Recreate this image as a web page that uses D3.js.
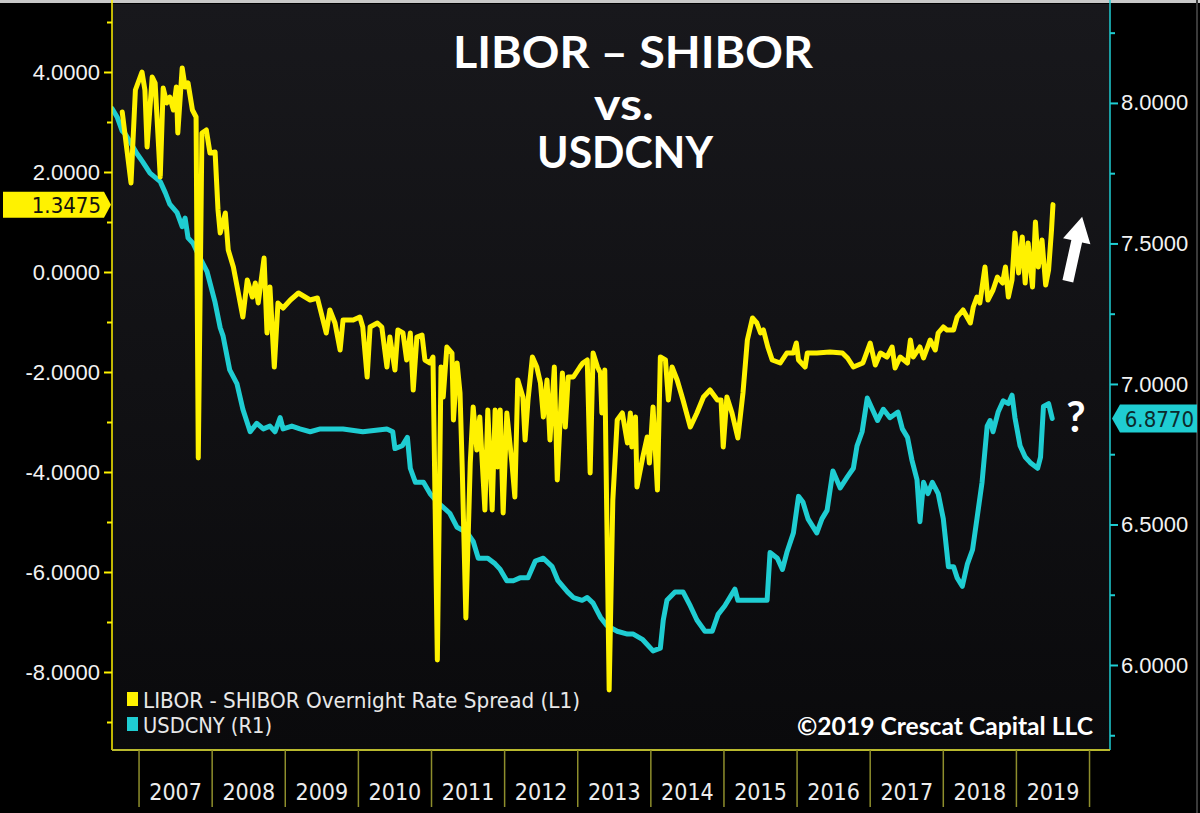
<!DOCTYPE html>
<html>
  <head>
    <meta http-equiv="Content-type" content="text/html; charset=utf-8"/>
    <title>LIBOR - SHIBOR vs. USDCNY</title>
    <script src="https://d3js.org/d3.v7.min.js"></script>
    <style>
      body{ margin:0; background:#000; }
      svg{ display:block; }
      .narrow{ font-family:"DejaVu Sans Condensed","Liberation Sans Narrow","DejaVu Sans",sans-serif; font-stretch:condensed; }
      .bold{ font-family:Lato,"Open Sans",sans-serif; font-weight:700; }
    </style>
  </head>
  <body>
    <svg width="1200" height="813"></svg>
    <script>
      // ### Chart data ###
      var years = [2007,2008,2009,2010,2011,2012,2013,2014,2015,2016,2017,2018,2019];
      var leftTicks = [-8,-6,-4,-2,0,2,4];
      var leftMinor = [-9,-7,-5,-3,-1,1,3,5];
      var rightTicks = [6,6.5,7,7.5,8];
      var rightMinor = [5.75,6.25,6.75,7.25,7.75,8.25];
      var spreadLast = 1.3475;
      var usdcnyLast = 6.8770;

      // [decimal year, LIBOR - SHIBOR overnight spread]
      var spread = [[2006.77,3.20],[2006.89,1.78],[2006.95,3.64],[2007.04,4.00],[2007.08,3.64],[2007.11,2.50],[2007.18,3.90],[2007.22,3.78],[2007.29,1.90],[2007.33,3.68],[2007.38,3.38],[2007.42,3.50],[2007.47,3.24],[2007.51,3.70],[2007.53,2.78],[2007.59,4.08],[2007.63,3.70],[2007.67,3.78],[2007.73,3.24],[2007.78,3.10],[2007.81,-3.72],[2007.86,2.78],[2007.92,2.84],[2007.97,2.38],[2008.04,2.40],[2008.08,1.24],[2008.11,0.78],[2008.18,1.18],[2008.22,0.44],[2008.29,0.10],[2008.35,-0.36],[2008.42,-0.90],[2008.48,-0.16],[2008.55,-0.50],[2008.59,-0.22],[2008.63,-0.62],[2008.71,0.28],[2008.75,-1.22],[2008.79,-0.30],[2008.85,-1.90],[2008.90,-0.62],[2008.97,-0.72],[2009.07,-0.56],[2009.18,-0.42],[2009.34,-0.56],[2009.44,-0.52],[2009.56,-1.22],[2009.61,-0.76],[2009.68,-1.02],[2009.75,-1.56],[2009.79,-0.96],[2009.93,-0.96],[2010.02,-0.90],[2010.06,-1.10],[2010.12,-2.10],[2010.16,-1.10],[2010.26,-1.02],[2010.32,-1.10],[2010.39,-1.90],[2010.43,-1.30],[2010.50,-1.96],[2010.54,-1.16],[2010.61,-1.22],[2010.66,-1.76],[2010.71,-1.22],[2010.75,-2.36],[2010.80,-1.30],[2010.87,-1.26],[2010.91,-1.76],[2010.98,-1.82],[2011.02,-1.70],[2011.08,-7.76],[2011.13,-1.90],[2011.16,-2.50],[2011.21,-1.50],[2011.28,-1.62],[2011.30,-2.96],[2011.35,-1.82],[2011.39,-2.42],[2011.42,-3.90],[2011.47,-6.92],[2011.53,-3.82],[2011.57,-2.70],[2011.62,-3.56],[2011.66,-2.90],[2011.73,-4.76],[2011.77,-2.76],[2011.83,-4.76],[2011.87,-2.76],[2011.90,-3.90],[2011.94,-2.76],[2011.98,-4.82],[2012.03,-2.82],[2012.10,-3.82],[2012.14,-4.50],[2012.18,-2.16],[2012.25,-2.50],[2012.28,-3.36],[2012.32,-2.56],[2012.38,-1.70],[2012.44,-1.90],[2012.49,-2.22],[2012.53,-2.90],[2012.58,-2.16],[2012.62,-3.36],[2012.68,-1.90],[2012.72,-4.16],[2012.79,-2.02],[2012.83,-3.10],[2012.87,-2.10],[2012.94,-2.10],[2013.03,-1.90],[2013.07,-1.82],[2013.13,-1.76],[2013.17,-4.02],[2013.21,-1.62],[2013.27,-1.90],[2013.31,-2.02],[2013.33,-2.82],[2013.37,-1.96],[2013.43,-8.36],[2013.48,-4.56],[2013.54,-2.96],[2013.61,-2.82],[2013.68,-3.42],[2013.72,-2.82],[2013.74,-3.50],[2013.79,-2.90],[2013.81,-4.30],[2013.89,-3.70],[2013.95,-3.30],[2013.98,-3.82],[2014.03,-2.70],[2014.09,-4.36],[2014.13,-1.70],[2014.20,-1.76],[2014.24,-2.56],[2014.29,-1.90],[2014.36,-2.16],[2014.44,-2.56],[2014.54,-3.10],[2014.63,-2.82],[2014.72,-2.50],[2014.81,-2.36],[2014.91,-2.56],[2014.96,-2.56],[2014.99,-3.50],[2015.04,-2.50],[2015.11,-2.82],[2015.19,-3.32],[2015.26,-2.42],[2015.32,-1.36],[2015.39,-0.92],[2015.45,-1.02],[2015.50,-1.22],[2015.54,-1.16],[2015.60,-1.50],[2015.66,-1.76],[2015.77,-1.82],[2015.86,-1.62],[2015.95,-1.62],[2015.99,-1.42],[2016.02,-1.76],[2016.11,-1.90],[2016.14,-1.62],[2016.27,-1.62],[2016.45,-1.60],[2016.62,-1.62],[2016.69,-1.72],[2016.77,-1.90],[2016.90,-1.82],[2017.00,-1.42],[2017.07,-1.86],[2017.14,-1.62],[2017.23,-1.70],[2017.30,-1.50],[2017.34,-1.92],[2017.41,-1.70],[2017.51,-1.82],[2017.55,-1.36],[2017.59,-1.70],[2017.68,-1.50],[2017.73,-1.72],[2017.82,-1.36],[2017.89,-1.56],[2017.93,-1.22],[2018.00,-1.10],[2018.05,-1.16],[2018.14,-1.16],[2018.19,-0.90],[2018.27,-0.76],[2018.37,-1.02],[2018.41,-0.70],[2018.46,-0.50],[2018.50,-0.62],[2018.57,0.10],[2018.61,-0.56],[2018.68,-0.36],[2018.74,-0.10],[2018.81,-0.22],[2018.85,0.10],[2018.89,-0.50],[2018.94,-0.16],[2018.98,0.78],[2019.03,-0.02],[2019.08,0.70],[2019.12,-0.22],[2019.16,0.58],[2019.22,-0.30],[2019.26,1.00],[2019.30,0.10],[2019.35,0.64],[2019.40,-0.26],[2019.44,0.04],[2019.48,0.84],[2019.50,1.3475]];

      // [decimal year, USDCNY]
      var usdcny = [[2006.63,7.98],[2006.70,7.95],[2006.77,7.90],[2006.81,7.89],[2006.88,7.86],[2006.97,7.82],[2007.05,7.79],[2007.15,7.75],[2007.29,7.72],[2007.36,7.68],[2007.42,7.64],[2007.52,7.61],[2007.59,7.56],[2007.63,7.59],[2007.67,7.52],[2007.74,7.50],[2007.83,7.45],[2007.93,7.40],[2007.97,7.36],[2008.04,7.29],[2008.11,7.20],[2008.15,7.17],[2008.24,7.05],[2008.34,7.00],[2008.42,6.91],[2008.52,6.83],[2008.61,6.86],[2008.70,6.84],[2008.79,6.85],[2008.86,6.83],[2008.93,6.88],[2008.97,6.84],[2009.09,6.85],[2009.20,6.84],[2009.34,6.83],[2009.48,6.84],[2009.79,6.84],[2010.06,6.83],[2010.39,6.84],[2010.47,6.83],[2010.50,6.77],[2010.60,6.78],[2010.67,6.81],[2010.71,6.70],[2010.78,6.65],[2010.89,6.65],[2010.98,6.61],[2011.08,6.58],[2011.25,6.54],[2011.35,6.49],[2011.49,6.47],[2011.57,6.44],[2011.64,6.38],[2011.77,6.38],[2011.87,6.36],[2011.94,6.34],[2012.03,6.30],[2012.12,6.30],[2012.21,6.31],[2012.32,6.31],[2012.42,6.37],[2012.53,6.38],[2012.65,6.35],[2012.73,6.30],[2012.86,6.26],[2012.94,6.24],[2013.06,6.23],[2013.13,6.24],[2013.21,6.22],[2013.31,6.17],[2013.40,6.14],[2013.54,6.12],[2013.68,6.11],[2013.76,6.11],[2013.89,6.09],[2014.03,6.05],[2014.13,6.06],[2014.17,6.16],[2014.22,6.23],[2014.33,6.26],[2014.44,6.26],[2014.54,6.21],[2014.63,6.16],[2014.74,6.12],[2014.84,6.12],[2014.92,6.18],[2015.01,6.21],[2015.15,6.27],[2015.19,6.23],[2015.59,6.23],[2015.63,6.40],[2015.73,6.38],[2015.80,6.34],[2015.86,6.40],[2015.95,6.47],[2016.02,6.60],[2016.08,6.58],[2016.15,6.52],[2016.27,6.47],[2016.34,6.52],[2016.41,6.55],[2016.49,6.69],[2016.59,6.63],[2016.69,6.67],[2016.77,6.70],[2016.82,6.78],[2016.89,6.83],[2016.96,6.95],[2017.03,6.91],[2017.10,6.87],[2017.18,6.91],[2017.27,6.88],[2017.38,6.90],[2017.44,6.84],[2017.51,6.81],[2017.57,6.73],[2017.64,6.66],[2017.68,6.51],[2017.73,6.65],[2017.79,6.61],[2017.85,6.65],[2017.93,6.61],[2018.00,6.52],[2018.07,6.35],[2018.14,6.35],[2018.19,6.31],[2018.26,6.28],[2018.33,6.36],[2018.40,6.41],[2018.46,6.52],[2018.53,6.65],[2018.60,6.85],[2018.64,6.87],[2018.68,6.83],[2018.75,6.90],[2018.82,6.94],[2018.89,6.93],[2018.94,6.96],[2018.98,6.88],[2019.05,6.78],[2019.12,6.74],[2019.19,6.72],[2019.29,6.70],[2019.33,6.74],[2019.37,6.92],[2019.44,6.93],[2019.49,6.877]];

      var YELLOW = "#fff200", CYAN = "#1fcdd2";

      var svg = d3.select("svg"),
          plot = {left: 112, right: 1110, top: 4, bottom: 750};

      var x = d3.scaleLinear().domain([2006.63, 2020.28]).range([plot.left, plot.right]);
      var yL = d3.scaleLinear().domain([-9.56, 5.36]).range([plot.bottom, plot.top]);
      var yR = d3.scaleLinear().domain([5.6975, 8.352]).range([plot.bottom, plot.top]);

      // frame + plot background
      var defs = svg.append("defs");
      var grad = defs.append("linearGradient").attr("id", "bg").attr("x1", 0).attr("y1", 0).attr("x2", 0).attr("y2", 1);
      grad.append("stop").attr("offset", "0%").attr("stop-color", "#18181c");
      grad.append("stop").attr("offset", "100%").attr("stop-color", "#0a0a0c");
      defs.append("clipPath").attr("id", "clip")
        .append("rect").attr("x", plot.left).attr("y", plot.top)
        .attr("width", plot.right - plot.left).attr("height", plot.bottom - plot.top);

      svg.append("rect").attr("x", plot.left).attr("y", plot.top)
          .attr("width", plot.right - plot.left).attr("height", plot.bottom - plot.top)
          .attr("fill", "url(#bg)");
      svg.append("rect").attr("x", 0).attr("y", 0).attr("width", 1200).attr("height", 3).attr("fill", "#c8c8c8");
      svg.append("rect").attr("x", 1196).attr("y", 0).attr("width", 2).attr("height", 813).attr("fill", "#3a3a3a");

      // title
      var title = svg.append("g").attr("class", "bold").attr("fill", "#fff").attr("text-anchor", "middle");
      title.append("text").attr("x", 633).attr("y", 68).attr("font-size", 43)
          .attr("textLength", 360).attr("lengthAdjust", "spacingAndGlyphs").text("LIBOR – SHIBOR");
      title.append("text").attr("x", 624).attr("y", 120).attr("font-size", 43)
          .attr("textLength", 60).attr("lengthAdjust", "spacingAndGlyphs").text("vs.");
      title.append("text").attr("x", 625).attr("y", 168).attr("font-size", 43)
          .attr("textLength", 176).attr("lengthAdjust", "spacingAndGlyphs").text("USDCNY");

      // lines
      var lineL = d3.line().x(function(d) { return x(d[0]); }).y(function(d) { return yL(d[1]); });
      var lineR = d3.line().x(function(d) { return x(d[0]); }).y(function(d) { return yR(d[1]); });
      var lines = svg.append("g").attr("clip-path", "url(#clip)");
      lines.append("path").datum(usdcny)
          .attr("fill", "none").attr("stroke", CYAN).attr("stroke-width", 5)
          .attr("stroke-linejoin", "round").attr("stroke-linecap", "round").attr("d", lineR);
      lines.append("path").datum(spread)
          .attr("fill", "none").attr("stroke", YELLOW).attr("stroke-width", 5)
          .attr("stroke-linejoin", "round").attr("stroke-linecap", "round").attr("d", lineL);

      // left axis
      var fmt = function(d) { return d.toFixed(4); };
      var gl = svg.append("g").attr("class", "narrow").attr("transform", "translate(" + plot.left + ",0)");
      gl.call(d3.axisLeft(yL).tickValues(leftMinor).tickSize(5).tickFormat(""));
      gl.append("g").call(d3.axisLeft(yL).tickValues(leftTicks).tickSize(8).tickPadding(4).tickFormat(fmt));
      gl.selectAll(".domain").attr("stroke", "none");
      gl.selectAll("line").attr("stroke", YELLOW).attr("stroke-width", 2);
      gl.selectAll("text").attr("fill", "#f2f2f2").attr("font-size", 22).attr("font-family", null);
      gl.append("line").attr("y1", plot.top - 4).attr("y2", plot.bottom).attr("stroke", YELLOW).attr("stroke-width", 1.5);

      // right axis
      var gr = svg.append("g").attr("class", "narrow").attr("transform", "translate(" + plot.right + ",0)");
      gr.call(d3.axisRight(yR).tickValues(rightMinor).tickSize(5).tickFormat(""));
      gr.append("g").call(d3.axisRight(yR).tickValues(rightTicks).tickSize(8).tickPadding(3).tickFormat(fmt));
      gr.selectAll(".domain").attr("stroke", "none");
      gr.selectAll("line").attr("stroke", CYAN).attr("stroke-width", 2);
      gr.selectAll("text").attr("fill", "#f2f2f2").attr("font-size", 22).attr("font-family", null);
      gr.append("line").attr("y1", plot.top - 4).attr("y2", plot.bottom).attr("stroke", CYAN).attr("stroke-width", 1.5);

      // bottom axis: year bands
      svg.append("line").attr("x1", plot.left).attr("x2", plot.right)
          .attr("y1", plot.bottom).attr("y2", plot.bottom).attr("stroke", "#b9b92e").attr("stroke-width", 2);
      var bounds = years.concat([years[years.length - 1] + 1]);
      svg.append("g").selectAll("line").data(bounds).join("line")
          .attr("x1", function(d) { return x(d); }).attr("x2", function(d) { return x(d); })
          .attr("y1", plot.bottom).attr("y2", 807)
          .attr("stroke", "#8e8e2c").attr("stroke-width", 1.5);
      svg.append("g").attr("class", "narrow").selectAll("text").data(years).join("text")
          .attr("x", function(d) { return x(d + 0.5); }).attr("y", 800)
          .attr("text-anchor", "middle").attr("font-size", 23).attr("fill", "#ececec")
          .text(function(d) { return d; });

      // last value tags
      var ty = yL(spreadLast);
      svg.append("path")
          .attr("d", "M3," + (ty - 13) + "H104L111," + ty + "L104," + (ty + 13) + "H3Z")
          .attr("fill", YELLOW);
      svg.append("text").attr("class", "narrow").attr("x", 101).attr("y", ty + 8)
          .attr("text-anchor", "end").attr("font-size", 22).attr("fill", "#111").text(fmt(spreadLast));

      var ry = yR(usdcnyLast);
      svg.append("path")
          .attr("d", "M1112," + ry + "L1120," + (ry - 14) + "H1197V" + (ry + 14) + "H1120Z")
          .attr("fill", CYAN);
      svg.append("text").attr("class", "narrow").attr("x", 1194).attr("y", ry + 8)
          .attr("text-anchor", "end").attr("font-size", 22).attr("fill", "#0c2a2c").text(fmt(usdcnyLast));

      // legend
      var leg = svg.append("g").attr("class", "narrow");
      [["LIBOR - SHIBOR Overnight Rate Spread (L1)", YELLOW, 437], ["USDCNY (R1)", CYAN, 129]].forEach(function(d, i) {
        leg.append("rect").attr("x", 127).attr("y", 692 + i * 25).attr("width", 11).attr("height", 14).attr("fill", d[1]);
        leg.append("text").attr("x", 143).attr("y", 708 + i * 25).attr("font-size", 21)
            .attr("textLength", d[2]).attr("lengthAdjust", "spacingAndGlyphs")
            .attr("fill", "#e8e8e8").text(d[0]);
      });

      // annotations
      svg.append("text").attr("class", "bold").attr("x", 1093).attr("y", 735)
          .attr("text-anchor", "end").attr("font-size", 25).attr("fill", "#fff")
          .attr("textLength", 296).attr("lengthAdjust", "spacingAndGlyphs")
          .text("©2019 Crescat Capital LLC");
      svg.append("path")
          .attr("transform", "translate(1075,249) rotate(12.5)")
          .attr("d", "M0,-33L14,-8H5.5V33H-5.5V-8H-14Z")
          .attr("fill", "#fff");
      svg.append("text").attr("class", "bold").attr("x", 1076).attr("y", 432)
          .attr("text-anchor", "middle").attr("font-size", 42).attr("fill", "#fff").text("?");
    </script>
  </body>
</html>
